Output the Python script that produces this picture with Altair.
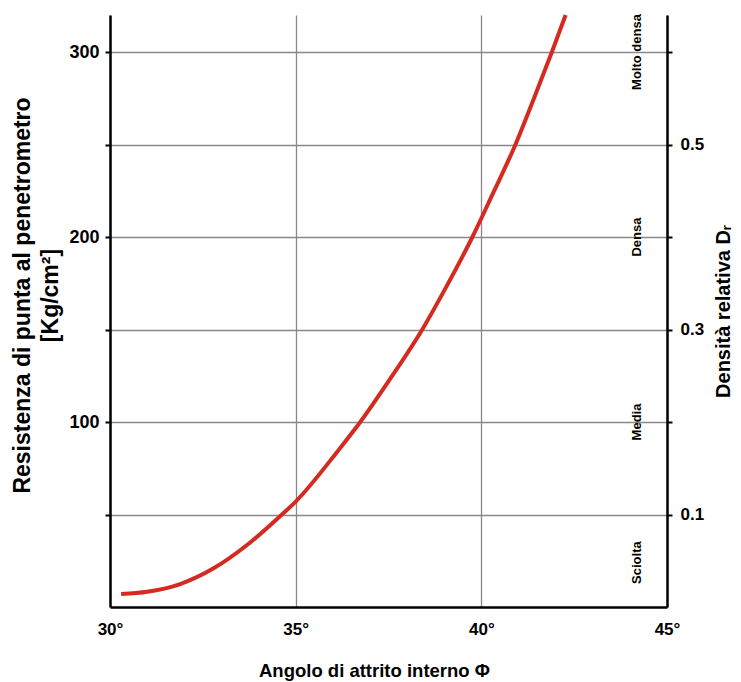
import altair as alt
import pandas as pd

# Curve: friction angle (deg) vs cone resistance (kg/cm2)
angles = [30.3, 31, 31.89, 32.79, 33.69, 34.63, 35, 36.2, 36.74, 37.5, 38.41,
          39.0, 39.76, 40.3, 40.92, 41.4, 41.9, 42.27]
resistance = [7, 8.2, 12.4, 20.9, 33.5, 50, 57, 86, 100, 122, 150,
              171, 200, 223, 250, 274, 300, 320]

x_ticks = [30, 35, 40, 45]
y_ticks = [50, 100, 150, 200, 250, 300]
left_labels = [100, 200, 300]
right_tick_vals = [50, 150, 250]
right_tick_text = ["0.1", "0.3", "0.5"]

density_labels = ["Sciolta", "Media", "Densa", "Molto densa"]
density_pos = [24, 100, 200, 300]

df = pd.DataFrame({"phi": angles, "qc": resistance})
dl = pd.DataFrame({"label": density_labels, "qc": density_pos})

FONT = "Liberation Sans"
xscale = alt.Scale(domain=[30, 45], nice=False, zero=False)
yscale = alt.Scale(domain=[0, 320], nice=False)

right_expr = " : ".join(
    f"datum.value == {v} ? '{t}'" for v, t in zip(right_tick_vals, right_tick_text)
) + " : ''"
left_expr = " || ".join(f"datum.value == {v}" for v in left_labels)
left_expr = f"({left_expr}) ? datum.value : ''"

x_axis = alt.Axis(
    values=x_ticks, labelExpr="datum.value + '°'", ticks=False,
    domainColor="black", domainWidth=2.5, gridColor="#888888", gridWidth=1.3,
    labelFont=FONT, labelFontSize=17, labelFontWeight="bold", labelColor="black",
    labelPadding=14, labelFlush=False,
    title="Angolo di attrito interno Φ", titleFont=FONT, titleFontSize=18.5,
    titleFontWeight="bold", titleColor="black", titlePadding=24, titleX=264,
)

left_axis = alt.Axis(
    orient="left", values=y_ticks, labelExpr=left_expr,
    domainColor="black", domainWidth=2.5, gridColor="#888888", gridWidth=1.3,
    tickColor="black", tickWidth=2, tickSize=5,
    labelFont=FONT, labelFontSize=18, labelFontWeight="bold", labelColor="black",
    labelPadding=6,
    title=["Resistenza di punta al penetrometro", "[Kg/cm²]"],
    titleFont=FONT, titleFontSize=23, titleFontWeight="bold", titleColor="black",
    titlePadding=6, titleLineHeight=28, titleY=280,
)

right_axis = alt.Axis(
    orient="right", values=y_ticks, labelExpr=right_expr, grid=False,
    domainColor="black", domainWidth=2.5,
    tickColor="black", tickWidth=2, tickSize=5,
    labelFont=FONT, labelFontSize=17, labelFontWeight="bold", labelColor="black",
    labelPadding=8,
    title="Densità relativa Dᵣ", titleFont=FONT, titleFontSize=20,
    titleFontWeight="bold", titleColor="black", titleAngle=270, titlePadding=30,
)

line = alt.Chart(df).mark_line(color="#d42a20", strokeWidth=4, interpolate="monotone").encode(
    x=alt.X("phi:Q", scale=xscale, axis=x_axis),
    y=alt.Y("qc:Q", scale=yscale, axis=left_axis),
)

text = alt.Chart(dl).mark_text(
    angle=270, font=FONT, fontSize=13, fontWeight="bold", color="black"
).encode(
    x=alt.datum(44.2, scale=xscale),
    y=alt.Y("qc:Q", scale=yscale),
    text="label:N",
)

left = alt.layer(line, text)

right = alt.Chart(df).mark_line(opacity=0).encode(
    x=alt.X("phi:Q", scale=xscale),
    y=alt.Y("qc:Q", scale=yscale, axis=right_axis),
)

chart = alt.layer(left, right).resolve_scale(y="independent").properties(
    width=557, height=592,
    autosize=alt.AutoSizeParams(type="none"),
    padding={"left": 102, "top": 7, "right": 66, "bottom": 75},
    background="white",
).configure_view(stroke=None)

chart.save("out.html", embed_options={"renderer": "svg", "actions": False})
